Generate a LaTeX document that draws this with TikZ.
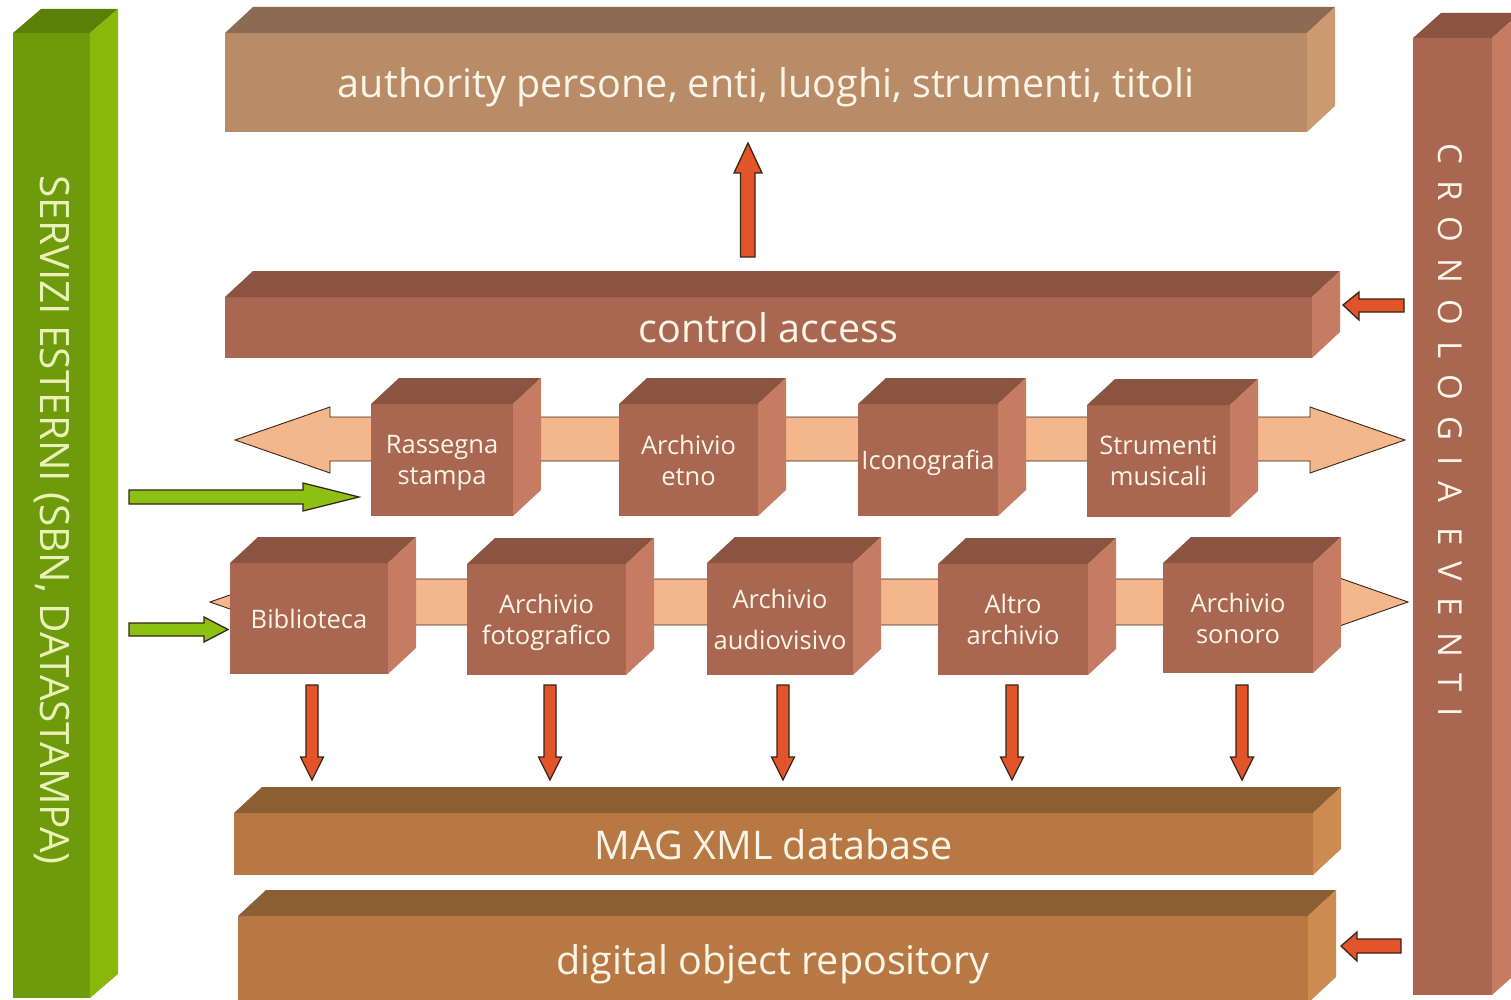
\documentclass[tikz,border=0pt]{standalone}
\usepackage{fontspec}
\setmainfont{Open Sans}
\definecolor{gF}{HTML}{6E9B0C}
\definecolor{gT}{HTML}{5A8006}
\definecolor{gS}{HTML}{8AB80A}
\definecolor{tF}{HTML}{B98B66}
\definecolor{tT}{HTML}{8D6A52}
\definecolor{tS}{HTML}{CC9A70}
\definecolor{rF}{HTML}{A96650}
\definecolor{rT}{HTML}{8A5440}
\definecolor{rS}{HTML}{C67C62}
\definecolor{oF}{HTML}{B87844}
\definecolor{oT}{HTML}{8B5E34}
\definecolor{oS}{HTML}{CC8B50}
\definecolor{peach}{HTML}{F3B78B}
\definecolor{arrred}{HTML}{E2542A}
\definecolor{arrgreen}{HTML}{8CC012}
\definecolor{arrline}{HTML}{3A2418}
\definecolor{txt}{HTML}{FBF5E8}
\definecolor{gtxt}{HTML}{EAF2B8}
\tikzset{
  face/.style={inner sep=0pt, outer sep=0pt, text=txt, align=center},
  bigfont/.style={font=\fontsize{39.5}{46}\selectfont, text depth=0pt},
  boxfont/.style={font=\fontsize{25.5}{31}\selectfont, text depth=0pt},
  band/.style={fill=peach, draw=arrline, line width=0.9pt, line join=miter},
  redarrow/.style={fill=arrred, draw=arrline, line width=1.3pt, line join=miter},
  greenarrow/.style={fill=arrgreen, draw=arrline, line width=1.3pt, line join=miter},
}
\def\depx{28}
\def\depy{26}
% #1 name, #2 x1, #3 y1, #4 x2, #5 y2, #6 colour prefix, #7 font style, #8 text
\newcommand\solid[8]{%
  \node[face, fill=#6F, minimum width={(#4-#2)*1pt}, minimum height={(#5-#3)*1pt}, #7]
    (#1) at ({(#2+#4)/2},{(#3+#5)/2}) {#8};
  \fill[#6T] (#1.north west) -- ++(\depx,-\depy) -- ([shift={(\depx,-\depy)}]#1.north east) -- (#1.north east) -- cycle;
  \fill[#6S] (#1.north east) -- ++(\depx,-\depy) -- ([shift={(\depx,-\depy)}]#1.south east) -- (#1.south east) -- cycle;
}
\newcommand\dnarrow[1]{%
  \filldraw[redarrow] (#1-6,685) -- (#1+6,685) -- (#1+6,757) -- (#1+11.5,757) -- (#1,780) -- (#1-11.5,757) -- (#1-6,757) -- cycle;
}
\begin{document}
\begin{tikzpicture}[x=1pt,y=-1pt]
\useasboundingbox (0,0) rectangle (1511,1000);
\clip (0,0) rectangle (1511,1000);
\fill[white] (0,0) rectangle (1511,1000);

% side columns
\def\depy{24}
\solid{servizi}{13}{33}{90}{998}{g}{bigfont}{}
\def\depy{25}
\solid{crono}{1413}{38}{1492}{995}{r}{bigfont}{}
\def\depy{26}
\node[rotate=-90, text=gtxt, font=\fontsize{40.5}{46}\selectfont, inner sep=0pt] (servtxt) at (52,520) {SERVIZI ESTERNI (SBN, DATASTAMPA)};
\node[rotate=-90, text=txt, font={\fontsize{33}{38}\selectfont\addfontfeature{LetterSpace=49}}, inner sep=0pt] (cronotxt) at (1450,430) {CRONOLOGIA EVENTI};

% horizontal layers
\solid{auth}{225}{33}{1307}{132}{t}{bigfont}{authority persone, enti, luoghi, strumenti, titoli}
\solid{ctrl}{225}{297}{1312}{358}{r}{bigfont}{control access}
\solid{mag}{234}{813}{1313}{875}{o}{bigfont}{MAG XML database}
\solid{repo}{238}{916}{1308}{1003}{o}{bigfont}{digital object repository}

% bands
\filldraw[band] (235,440) -- (330,407) -- (330,417) -- (1310,417) -- (1310,407) -- (1405,440) -- (1310,473) -- (1310,461) -- (330,461) -- (330,473) -- cycle;
\filldraw[band] (210,602) -- (307,568) -- (307,579) -- (1311,579) -- (1311,568) -- (1408,602) -- (1311,636) -- (1311,625) -- (307,625) -- (307,636) -- cycle;

% upper cubes
\solid{rass}{371}{404}{513}{516}{r}{boxfont}{Rassegna\\stampa}
\solid{etno}{619}{404}{758}{516}{r}{boxfont}{Archivio\\etno}
\solid{icon}{858}{404}{998}{516}{r}{boxfont}{Iconografia}
\solid{strum}{1087}{405}{1230}{517}{r}{boxfont}{Strumenti\\musicali}

% lower cubes
\solid{bibl}{230}{563}{388}{674}{r}{boxfont}{Biblioteca}
\solid{foto}{467}{564}{626}{675}{r}{boxfont}{Archivio\\fotografico}
\solid{audio}{707}{563}{853}{675}{r}{boxfont}{Archivio\\[10pt]audiovisivo}
\solid{altro}{938}{564}{1088}{675}{r}{boxfont}{Altro\\archivio}
\solid{sonoro}{1163}{563}{1313}{673}{r}{boxfont}{Archivio\\sonoro}

% red arrows
\filldraw[redarrow] (740.5,257) -- (755,257) -- (755,173) -- (762,173) -- (748,143) -- (734,173) -- (740.5,173) -- cycle;
\dnarrow{312}
\dnarrow{550}
\dnarrow{783}
\dnarrow{1012}
\dnarrow{1242}
\filldraw[redarrow] (1343,305) -- (1359,292) -- (1359,299) -- (1404,299) -- (1404,312) -- (1359,312) -- (1359,320) -- cycle;
\filldraw[redarrow] (1341,946) -- (1357,932) -- (1357,939) -- (1401,939) -- (1401,953) -- (1357,953) -- (1357,961) -- cycle;

% green arrows
\filldraw[greenarrow] (129,490) -- (303,490) -- (303,483) -- (359,497) -- (303,511) -- (303,504) -- (129,504) -- cycle;
\filldraw[greenarrow] (129,623) -- (204,623) -- (204,617) -- (228,629.5) -- (204,642) -- (204,636) -- (129,636) -- cycle;
\end{tikzpicture}
\end{document}
